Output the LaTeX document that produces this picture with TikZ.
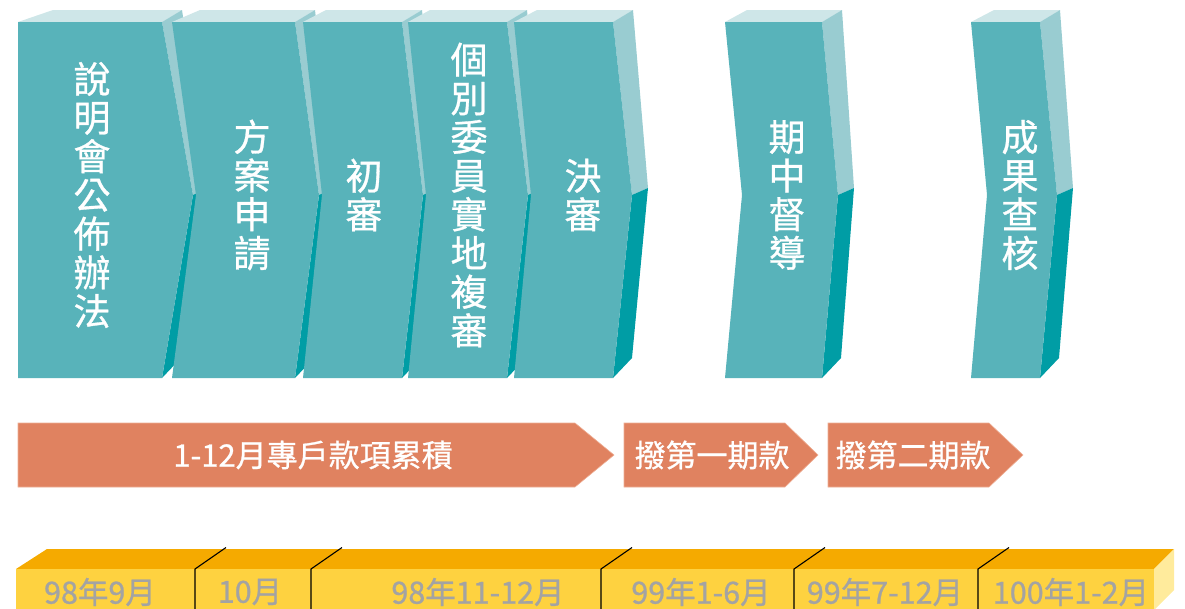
\documentclass[tikz,border=0pt]{standalone}
\usepackage{fontspec}
\newfontfamily\cjk[FakeBold=0.8]{Noto Sans CJK TC}
\definecolor{tealfront}{HTML}{58B3BA}
\definecolor{tealtop}{HTML}{CEE6E8}
\definecolor{teallight}{HTML}{99CCD1}
\definecolor{tealdark}{HTML}{009DA5}
\definecolor{arroworange}{HTML}{E08260}
\definecolor{arrowedge}{HTML}{EEAE94}
\definecolor{yfront}{HTML}{FED240}
\definecolor{ytop}{HTML}{F5AA00}
\definecolor{yside}{HTML}{FFEB9C}
\definecolor{ytext}{HTML}{A3A3A3}
% #1 L, #2 R, #3 tip x, #4 notch x, #5 top-left slant dx
\newcommand\mychev[5]{%
  \fill[tealtop] (#1,22) -- ({#1+#5},10) -- ({#2+20},10) -- (#2,22) -- cycle;
  \fill[teallight] (#2,22) -- ({#2+20},10) -- ({#3+16},188) -- (#3,195) -- cycle;
  \fill[tealdark] (#3,195) -- ({#3+16},188) -- ({#2+19},358) -- (#2,378) -- cycle;
  \fill[tealfront] (#1,22) -- (#2,22) -- (#3,195) -- (#2,378) -- (#1,378) -- (#4,195) -- cycle;
}
\newcommand\myarrow[3]{% left, body end, tip
  \fill[arroworange, draw=arrowedge, line width=0.6pt] (#1,423) -- (#2,423) -- (#3,455) -- (#2,487) -- (#1,487) -- cycle;
}
\begin{document}
\begin{tikzpicture}[x=1pt,y=-1pt,
  chevtext/.style={text=white, align=center, inner sep=0pt,
    font=\cjk\fontsize{37}{38.7}\selectfont},
  arrowtext/.style={text=white, inner sep=0pt, font=\cjk\fontsize{31}{32}\selectfont},
  ytextstyle/.style={text=ytext, inner sep=0pt, font=\cjk\fontsize{30.5}{31}\selectfont},
  divider/.style={black, line width=1.1pt}]
\useasboundingbox (0,0) rectangle (1185,608);
% chevrons
\mychev{18}{162}{193}{18}{35}
\mychev{172}{295}{319}{196}{28}
\mychev{303}{402}{423}{322}{23}
\mychev{408}{507}{528}{426}{22}
\mychev{514}{613}{632}{531}{23}
\mychev{725}{822}{838}{742}{22}
\mychev{971}{1040}{1057}{987}{23}
\node[chevtext] (c1) at (92,195) {說\\明\\會\\公\\佈\\辦\\法};
\node[chevtext] (c2) at (252,195) {方\\案\\申\\請};
\node[chevtext] (c3) at (364,195) {初\\審};
\node[chevtext] (c4) at (469,195) {個\\別\\委\\員\\實\\地\\複\\審};
\node[chevtext] (c5) at (583,195) {決\\審};
\node[chevtext] (c6) at (787,195) {期\\中\\督\\導};
\node[chevtext] (c7) at (1020,195) {成\\果\\查\\核};
% orange arrows
\myarrow{18}{575}{614}
\myarrow{624}{785}{818}
\myarrow{828}{989}{1023}
\node[arrowtext] (a1) at (313,455) {1-12月專戶款項累積};
\node[arrowtext] (a2) at (712,455) {撥第一期款};
\node[arrowtext] (a3) at (913,455) {撥第二期款};
% timeline bar
\fill[ytop] (16,569) -- (47,549) -- (1174,549) -- (1154,569) -- cycle;
\fill[yside] (1154,569) -- (1174,549) -- (1174,590) -- (1154,610) -- cycle;
\fill[yfront] (16,569) rectangle (1154,610);
\foreach \x in {195,311,601,794,978}{
  \draw[divider] (\x,610) -- (\x,569) -- ({\x+31},547.5);
}
\node[ytextstyle] (t1) at (100,592) {98年9月};
\node[ytextstyle] (t2) at (250,592) {10月};
\node[ytextstyle] (t3) at (478,592) {98年11-12月};
\node[ytextstyle] (t4) at (701,592) {99年1-6月};
\node[ytextstyle] (t5) at (885,592) {99年7-12月};
\node[ytextstyle] (t6) at (1071,592) {100年1-2月};
\end{tikzpicture}
\end{document}
